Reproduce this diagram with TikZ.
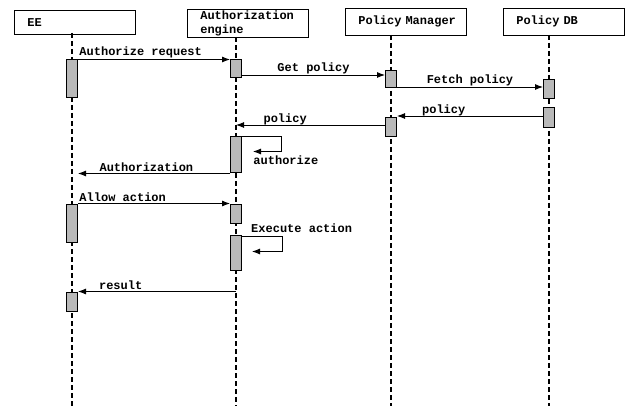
\documentclass[tikz,border=0pt]{standalone}
\usepackage{fontspec}
\setmonofont{Liberation Mono}
\usetikzlibrary{arrows,arrows.meta,positioning,calc}

\begin{document}
\begin{tikzpicture}[x=1pt, y=-1pt,
  font=\ttfamily\bfseries\fontsize{12}{14}\selectfont,
  actor/.style={draw, line width=0.6pt, fill=white, minimum width=121pt,
                minimum height=24pt, inner xsep=13pt, text width=95pt,
                align=left, anchor=north west},
  act/.style={draw, line width=1pt, fill=gray!55, minimum width=11pt,
               inner sep=0pt, minimum height=#1},
  life/.style={line width=1.2pt, dash pattern=on 5pt off 3pt},
  msg/.style={line width=0.9pt, -{Latex[length=8pt,width=6pt]}},
  lbl/.style={inner sep=1pt},
  onlbl/.style={inner sep=0pt, anchor=base, yshift=2pt}]

  \useasboundingbox (0,0) rectangle (634,406);

  % participants
  \node[actor] (ee) at (14,10) {EE};
  \node[actor, minimum height=28pt, inner ysep=1pt] (ae) at (187,9)
       {Authorization\\engine};
  \node[actor, minimum height=27pt] (pm) at (345,8) {\mbox{Policy Manager}};
  \node[actor, minimum height=27pt] (db) at (503,8) {Policy DB};

  % lifelines
  \coordinate (eeT) at (72,33);   \coordinate (eeB) at (72,406);
  \coordinate (aeT) at (236,37);  \coordinate (aeB) at (236,406);
  \coordinate (pmT) at (391,35);  \coordinate (pmB) at (391,406);
  \coordinate (dbT) at (549,35);  \coordinate (dbB) at (549,406);
  \foreach \l in {ee,ae,pm,db}
    \draw[life] (\l T) -- (\l B);

  % activation bars
  \node[act=38pt] (ee1) at (72,79)    {};
  \node[act=18pt] (ae1) at (236,69)   {};
  \node[act=17pt] (pm1) at (391,79.5) {};
  \node[act=19pt] (db1) at (549,89.5) {};
  \node[act=20pt] (db2) at (549,118)  {};
  \node[act=19pt] (pm2) at (391,127.5){};
  \node[act=36pt] (ae2) at (236,155)  {};
  \node[act=38pt] (ee2) at (72,223)   {};
  \node[act=19pt] (ae3) at (236,213.5){};
  \node[act=35pt] (ae4) at (236,252.5){};
  \node[act=19pt] (ee3) at (72,301.5) {};

  % messages
  \draw[msg] (ee1.north east) -- (ae1.north west)
       node[lbl, pos=0, above right] {Authorize request};
  \draw[msg] (ae1.east |- 0,75) -- (pm1.west |- 0,75)
       node[lbl, midway, above] {Get policy};
  \draw[msg] (pm1.east |- 0,87) -- (db1.west |- 0,87)
       node[lbl, midway, above] {Fetch policy};
  \draw[msg] (db2.west |- 0,116) -- (pm2.east |- 0,116)
       node[onlbl, pos=.68] {policy};
  \draw[msg] (pm2.west |- 0,125) -- (aeT |- 0,125)
       node[onlbl, pos=.67] {policy};

  % authorize (self call)
  \draw[msg] (ae2.north east) -- ++(39,0) -- ++(0,15) -- ++(-28,0)
       node[anchor=base west, inner sep=0pt, yshift=-13pt] {authorize};

  \draw[msg] (ae2.south west) -- (ae2.south west -| ee1.east)
       node[onlbl, pos=.55] {Authorization};
  \draw[msg] (ee2.north east) -- (ae3.north west)
       node[lbl, pos=0, above right] {Allow action};

  % execute (self call)
  \draw[msg] ($(ae4.north east)+(0,2)$) -- ++(40,0) -- ++(0,15) -- ++(-30,0);
  \node[anchor=base west, inner sep=0pt] (exe) at (251,232) {Execute action};

  \draw[msg] (ee3.north east -| aeT) -- (ee3.north east)
       node[onlbl, pos=.73] {result};

\end{tikzpicture}
\end{document}
